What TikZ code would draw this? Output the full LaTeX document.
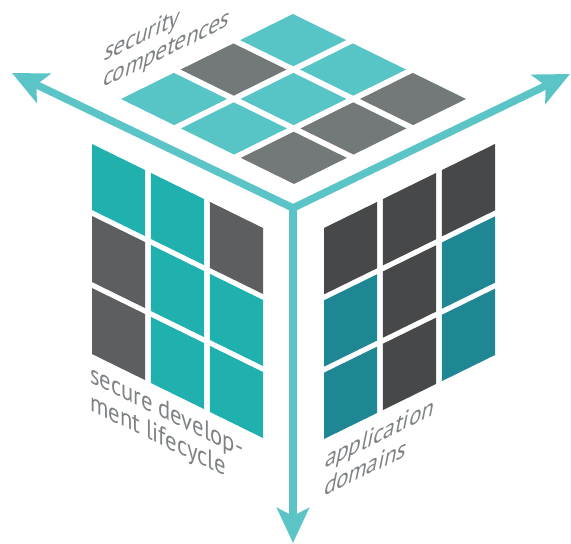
\documentclass[tikz,border=0pt]{standalone}
\usepackage{fontspec}
\setmainfont{PT Sans}
\usetikzlibrary{arrows.meta}
\definecolor{axiscol}{HTML}{5AC4C7}
\definecolor{topteal}{HTML}{57C4C6}
\definecolor{topgray}{HTML}{737978}
\definecolor{leftteal}{HTML}{20B1AF}
\definecolor{leftgray}{HTML}{5D5E60}
\definecolor{rightteal}{HTML}{1F8794}
\definecolor{rightdark}{HTML}{474849}
\definecolor{labelgray}{HTML}{7E8284}
\tikzset{
  axisline/.style={draw=axiscol, line width=7.5pt, line join=miter},
  axtip/.style={-{Stealth[length=35pt,width=32pt,inset=8pt]}},
  lbl/.style={text=labelgray, inner sep=0pt, align=left, anchor=base west},
  leftlbl/.style={lbl, cm={0.84,-0.412,0,1,(0pt,0pt)}},
  leanlbl/.style={lbl, cm={0.84,0.412,0.2,1,(0pt,0pt)}}
}
\begin{document}
\begin{tikzpicture}[x=1pt,y=1pt]
\useasboundingbox (0,0) rectangle (571,544);
% top face
\begin{scope}[shift={(293,530)}, x={(173pt,-85pt)}, y={(-172pt,-85pt)}]
  \def\w{0.3073}\def\s{0.3463}
  \foreach \i/\j/\c in {0/0/topteal,1/0/topteal,2/0/topgray,0/1/topgray,1/1/topteal,2/1/topgray,0/2/topteal,1/2/topteal,2/2/topgray}
    \fill[\c] (\i*\s,\j*\s) -- ++(\w,0) -- ++(0,\w) -- ++(-\w,0) -- cycle;
\end{scope}
% left face
\begin{scope}[shift={(92,400)}, x={(171pt,-84pt)}, y={(0pt,-210pt)}]
  \def\w{0.31}\def\s{0.345}\def\h{0.3143}\def\t{0.3429}
  \foreach \i/\j/\c in {0/0/leftteal,1/0/leftteal,2/0/leftgray,0/1/leftgray,1/1/leftteal,2/1/leftteal,0/2/leftgray,1/2/leftteal,2/2/leftteal}
    \fill[\c] (\i*\s,\j*\t) -- ++(\w,0) -- ++(0,\h) -- ++(-\w,0) -- cycle;
\end{scope}
% right face
\begin{scope}[shift={(324,316)}, x={(171pt,84pt)}, y={(0pt,-211pt)}]
  \def\w{0.31}\def\s{0.345}\def\h{0.3143}\def\t{0.3429}
  \foreach \i/\j/\c in {0/0/rightdark,1/0/rightdark,2/0/rightdark,0/1/rightteal,1/1/rightdark,2/1/rightteal,0/2/rightteal,1/2/rightdark,2/2/rightteal}
    \fill[\c] (\i*\s,\j*\t) -- ++(\w,0) -- ++(0,\h) -- ++(-\w,0) -- cycle;
\end{scope}
% axes
\coordinate (C) at (293,336);
\coordinate (L) at (12,471);
\coordinate (R) at (570,470);
\coordinate (D) at (293,1);
\draw[axisline, {Stealth[length=35pt,width=32pt,inset=8pt]}-{Stealth[length=35pt,width=32pt,inset=8pt]}] (L) -- (C) -- (R);
\draw[axisline, axtip] (C) -- (D);
% labels
\node[leanlbl, font=\fontsize{27}{28.3}\selectfont] (sc) at (97.35,453.7) {security\\\hspace*{5.5pt}competences};
\node[leftlbl, font=\fontsize{27}{28}\selectfont] (sd) at (90,134) {secure develop-\\ment lifecycle};
\node[leanlbl, font=\fontsize{27}{30.5}\selectfont] (ad) at (318,44.5) {application\\\hspace*{6pt}domains};
\end{tikzpicture}
\end{document}
